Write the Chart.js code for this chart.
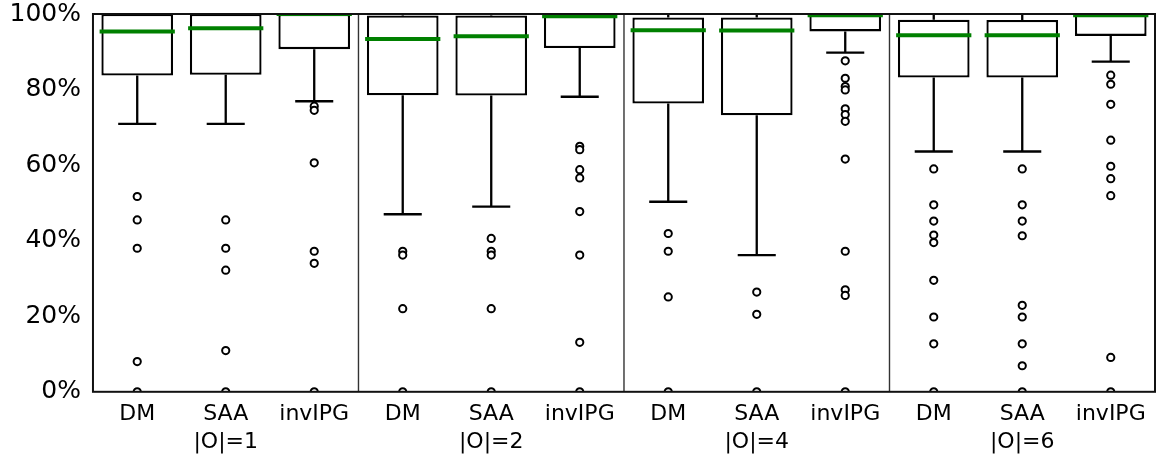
<!DOCTYPE html>
<html>
<head>
<meta charset="utf-8">
<script src="https://cdn.jsdelivr.net/npm/chart.js@4/dist/chart.umd.min.js"></script>
<style>
  html, body { margin: 0; padding: 0; background: #fff; }
  #wrap { width: 1161px; height: 461px; }
</style>
</head>
<body>
<div id="wrap"><canvas id="box-chart"></canvas></div>
<script>
// categories: 3 methods in 4 groups, group name under the middle one
const labels = [
  'DM', ['SAA', '|O|=1'], 'invIPG',
  'DM', ['SAA', '|O|=2'], 'invIPG',
  'DM', ['SAA', '|O|=4'], 'invIPG',
  'DM', ['SAA', '|O|=6'], 'invIPG'
];

// box stats (%)
const q1 = [83.7, 83.9, 90.7, 78.5, 78.4, 91.0, 76.3, 73.2, 95.4, 83.2, 83.2, 94.2];
const q3 = [100, 100, 100, 99.6, 99.6, 99.8, 99.1, 99.1, 100, 98.5, 98.4, 100];
const medians = [95.4, 96.2, 100, 93.4, 94.1, 99.4, 95.7, 95.6, 99.7, 94.4, 94.4, 99.7];
const whiskerLow = [70.9, 70.9, 76.9, 47.0, 49.0, 78.1, 50.3, 36.2, 89.8, 63.6, 63.6, 87.4];
const whiskerHigh = [100, 100, 100, 100, 100, 100, 100, 100, 100, 100, 100, 100];

// fliers per box
const outliers = [
  [51.7, 45.5, 38.0, 8.0, 0],
  [45.5, 38.0, 32.2, 10.9, 0],
  [75.6, 74.5, 60.6, 37.2, 34.0, 0],
  [37.2, 36.2, 22.0, 0],
  [40.6, 37.2, 36.2, 22.0, 0],
  [65.0, 64.1, 58.8, 56.6, 47.7, 36.2, 13.1, 0],
  [41.9, 37.2, 25.1, 0],
  [26.4, 20.5, 0],
  [87.6, 83.0, 80.8, 79.9, 74.9, 73.4, 71.6, 61.6, 37.2, 27.0, 25.5, 0],
  [59.0, 49.5, 45.2, 41.5, 39.5, 29.5, 19.8, 12.7, 0],
  [59.0, 49.5, 45.2, 41.3, 22.9, 19.8, 12.7, 6.9, 0],
  [83.8, 81.4, 76.1, 66.6, 59.7, 56.4, 51.9, 9.1, 0]
];

const yTicks = [0, 20, 40, 60, 80, 100];
const groupSize = 3;

const outlierPoints = [];
outliers.forEach((vals, i) => vals.forEach(v => outlierPoints.push({ x: i, y: v })));

// whiskers, medians, group separators and the frame
const boxExtras = {
  id: 'boxExtras',
  beforeDatasetsDraw(chart) {
    const { ctx, chartArea, scales: { x, y } } = chart;
    const w = chartArea.width / labels.length;
    ctx.save();
    ctx.strokeStyle = '#000';
    ctx.lineWidth = 2.3;
    for (let i = 0; i < labels.length; i++) {
      const cx = x.getPixelForValue(i);
      const capHalf = w * 0.215;
      ctx.beginPath();
      ctx.moveTo(cx, y.getPixelForValue(whiskerLow[i]));
      ctx.lineTo(cx, y.getPixelForValue(q1[i]));
      ctx.moveTo(cx - capHalf, y.getPixelForValue(whiskerLow[i]));
      ctx.lineTo(cx + capHalf, y.getPixelForValue(whiskerLow[i]));
      if (whiskerHigh[i] > q3[i]) {
        ctx.moveTo(cx, y.getPixelForValue(q3[i]));
        ctx.lineTo(cx, y.getPixelForValue(whiskerHigh[i]));
      }
      ctx.stroke();
    }
    ctx.restore();
  },
  afterDatasetsDraw(chart) {
    const { ctx, chartArea, scales: { x, y } } = chart;
    const w = chartArea.width / labels.length;
    ctx.save();
    ctx.beginPath();
    ctx.rect(chartArea.left, chartArea.top, chartArea.width, chartArea.height);
    ctx.clip();
    ctx.strokeStyle = '#008000';
    ctx.lineWidth = 4;
    for (let i = 0; i < labels.length; i++) {
      const cx = x.getPixelForValue(i);
      const my = y.getPixelForValue(medians[i]);
      ctx.beginPath();
      ctx.moveTo(cx - w * 0.425, my);
      ctx.lineTo(cx + w * 0.425, my);
      ctx.stroke();
    }
    ctx.restore();

    ctx.save();
    ctx.strokeStyle = '#333';
    ctx.lineWidth = 1.4;
    for (let g = groupSize; g < labels.length; g += groupSize) {
      const sx = x.getPixelForValue(g - 0.5);
      ctx.beginPath();
      ctx.moveTo(sx, chartArea.top);
      ctx.lineTo(sx, chartArea.bottom);
      ctx.stroke();
    }
    ctx.strokeStyle = '#111';
    ctx.lineWidth = 2;
    ctx.strokeRect(chartArea.left, chartArea.top, chartArea.width, chartArea.height);
    ctx.restore();
  }
};

new Chart(document.getElementById('box-chart'), {
  type: 'bar',
  data: {
    labels: labels,
    datasets: [
      {
        label: 'box',
        data: q1.map((v, i) => [v, q3[i]]),
        backgroundColor: '#fff',
        borderColor: '#000',
        borderWidth: 2.3,
        borderSkipped: false,
        grouped: false,
        barPercentage: 0.81,
        categoryPercentage: 1
      },
      {
        type: 'scatter',
        label: 'outliers',
        xAxisID: 'xo',
        data: outlierPoints,
        pointRadius: 3.6,
        pointBorderWidth: 2,
        pointBorderColor: '#000',
        pointBackgroundColor: '#fff'
      }
    ]
  },
  plugins: [boxExtras],
  options: {
    responsive: true,
    maintainAspectRatio: false,
    animation: false,
    layout: { padding: { left: 8, right: -2, top: 0, bottom: -4 } },
    plugins: { legend: { display: false }, tooltip: { enabled: false } },
    scales: {
      x: {
        offset: true,
        grid: { display: false, drawTicks: false },
        border: { display: false },
        ticks: {
          autoSkip: false,
          maxRotation: 0,
          padding: 8,
          color: '#000',
          font: { family: 'DejaVu Sans', size: 22, lineHeight: 1.3 }
        }
      },
      xo: {
        type: 'linear',
        display: false,
        offset: false,
        grace: 0,
        min: -0.5,
        max: labels.length - 0.5
      },
      y: {
        min: 0,
        max: 100,
        afterBuildTicks: axis => { axis.ticks = yTicks.map(v => ({ value: v })); },
        grid: {
          display: true,
          drawOnChartArea: false,
          drawTicks: true,
          tickLength: 10.5,
          tickColor: 'rgba(0,0,0,0)'
        },
        border: { display: false },
        ticks: {
          padding: 1.5,
          color: '#000',
          font: { family: 'DejaVu Sans', size: 25, lineHeight: 1 },
          callback: v => v + '%'
        }
      }
    }
  }
});
</script>
</body>
</html>
